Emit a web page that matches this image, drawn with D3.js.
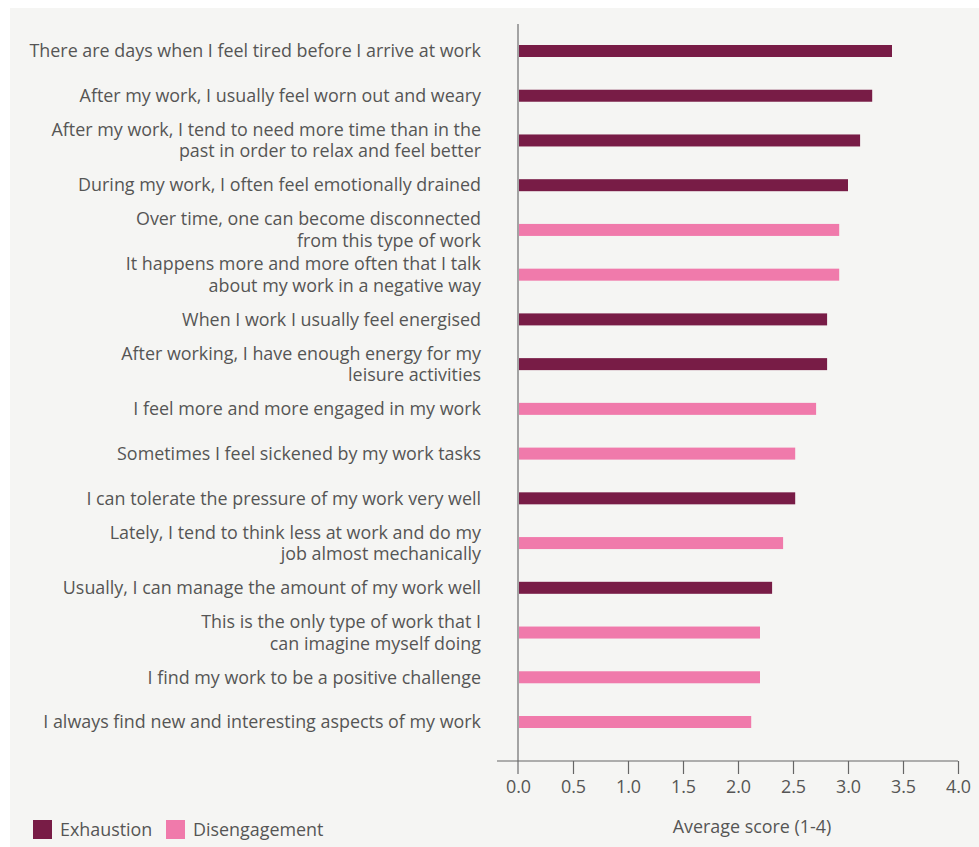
<!DOCTYPE html>
<html>
<head>
<meta charset="utf-8">
<script src="https://cdn.jsdelivr.net/npm/d3@7"></script>
<style>
  html, body { margin: 0; padding: 0; background: #ffffff; }
  svg { display: block; }
  text { font-family: "Open Sans", "Noto Sans", sans-serif; }
</style>
</head>
<body>
<svg id="chart" width="979" height="847"></svg>
<script>
// ---- data ----
const categories = [
  "There are days when I feel tired before I arrive at work",
  "After my work, I usually feel worn out and weary",
  "After my work, I tend to need more time than in the|past in order to relax and feel better",
  "During my work, I often feel emotionally drained",
  "Over time, one can become disconnected|from this type of work",
  "It happens more and more often that I talk|about my work in a negative way",
  "When I work I usually feel energised",
  "After working, I have enough energy for my|leisure activities",
  "I feel more and more engaged in my work",
  "Sometimes I feel sickened by my work tasks",
  "I can tolerate the pressure of my work very well",
  "Lately, I tend to think less at work and do my|job almost mechanically",
  "Usually, I can manage the amount of my work well",
  "This is the only type of work that I|can imagine myself doing",
  "I find my work to be a positive challenge",
  "I always find new and interesting aspects of my work"
];
const values = [3.40, 3.22, 3.11, 3.00, 2.92, 2.92, 2.81, 2.81, 2.71, 2.52, 2.52, 2.41, 2.31, 2.20, 2.20, 2.12];
const groups = ["Exhaustion", "Exhaustion", "Exhaustion", "Exhaustion", "Disengagement", "Disengagement",
  "Exhaustion", "Exhaustion", "Disengagement", "Disengagement", "Exhaustion", "Disengagement",
  "Exhaustion", "Disengagement", "Disengagement", "Disengagement"];
const seriesNames = ["Exhaustion", "Disengagement"];
const seriesColors = ["#781c46", "#f07aab"];
const xTicks = [0, 0.5, 1, 1.5, 2, 2.5, 3, 3.5, 4];
const xTitle = "Average score (1-4)";

// ---- layout ----
const FONT = "'Open Sans', 'Noto Sans', sans-serif";
const FS = 17.9;
const svg = d3.select("#chart");
svg.append("rect").attr("x", 10).attr("y", 8).attr("width", 969).attr("height", 839).attr("fill", "#f5f5f3");

const x = d3.scaleLinear().domain([0, 4]).range([518, 958]);
const y = d3.scalePoint().domain(categories).range([51, 722]);
const color = d3.scaleOrdinal().domain(seriesNames).range(seriesColors);
const barH = 12;
const textColor = "#555555";

// bars
svg.append("g").selectAll("rect").data(categories).join("rect")
  .attr("x", x(0))
  .attr("y", d => y(d) - barH / 2)
  .attr("width", (d, i) => x(values[i]) - x(0))
  .attr("height", barH)
  .attr("fill", (d, i) => color(groups[i]));

// vertical axis line
svg.append("line")
  .attr("x1", x(0)).attr("x2", x(0))
  .attr("y1", 24).attr("y2", 774)
  .attr("stroke", "#a3a3a3").attr("stroke-width", 2);

// category labels
const lab = svg.append("g").selectAll("text").data(categories).join("text")
  .attr("text-anchor", "end")
  .attr("fill", textColor)
  .attr("font-size", FS)
  .attr("font-family", FONT)
  .attr("x", 481)
  .attr("y", d => y(d));
lab.each(function(d) {
  const lines = d.split("|");
  const t = d3.select(this);
  const lh = 21.5;
  lines.forEach((ln, k) => {
    t.append("tspan")
      .attr("x", 481)
      .attr("y", y(d) + (k - (lines.length - 1) / 2) * lh)
      .attr("dy", "0.35em")
      .text(ln);
  });
});

// x axis
const xAxis = d3.axisBottom(x).tickValues(xTicks).tickFormat(d3.format(".1f")).tickSize(13).tickSizeOuter(0).tickPadding(6);
const gx = svg.append("g").attr("transform", "translate(0,761)").call(xAxis);
gx.select(".domain").remove();
gx.append("line").attr("x1", 497).attr("x2", x(4)).attr("y1", 0).attr("y2", 0).attr("stroke", "#666").attr("stroke-width", 1.2);
gx.selectAll(".tick line").attr("stroke", "#666").attr("stroke-width", 1.2);
gx.selectAll(".tick").filter(d => d === 0).select("line").remove();
gx.selectAll(".tick text").attr("fill", textColor).attr("font-size", FS).attr("font-family", FONT);

svg.append("text")
  .attr("x", 752).attr("y", 827).attr("dy", "0.35em")
  .attr("text-anchor", "middle").attr("fill", textColor).attr("font-size", FS).attr("font-family", FONT)
  .text(xTitle);

// legend
const leg = svg.append("g");
const legX = [33, 166];
seriesNames.forEach((s, i) => {
  leg.append("rect").attr("x", legX[i]).attr("y", 820).attr("width", 19).attr("height", 19).attr("fill", color(s));
  leg.append("text").attr("x", legX[i] + 27).attr("y", 829.5).attr("dy", "0.35em")
    .attr("fill", textColor).attr("font-size", FS).attr("font-family", FONT).text(s);
});
</script>
</body>
</html>
